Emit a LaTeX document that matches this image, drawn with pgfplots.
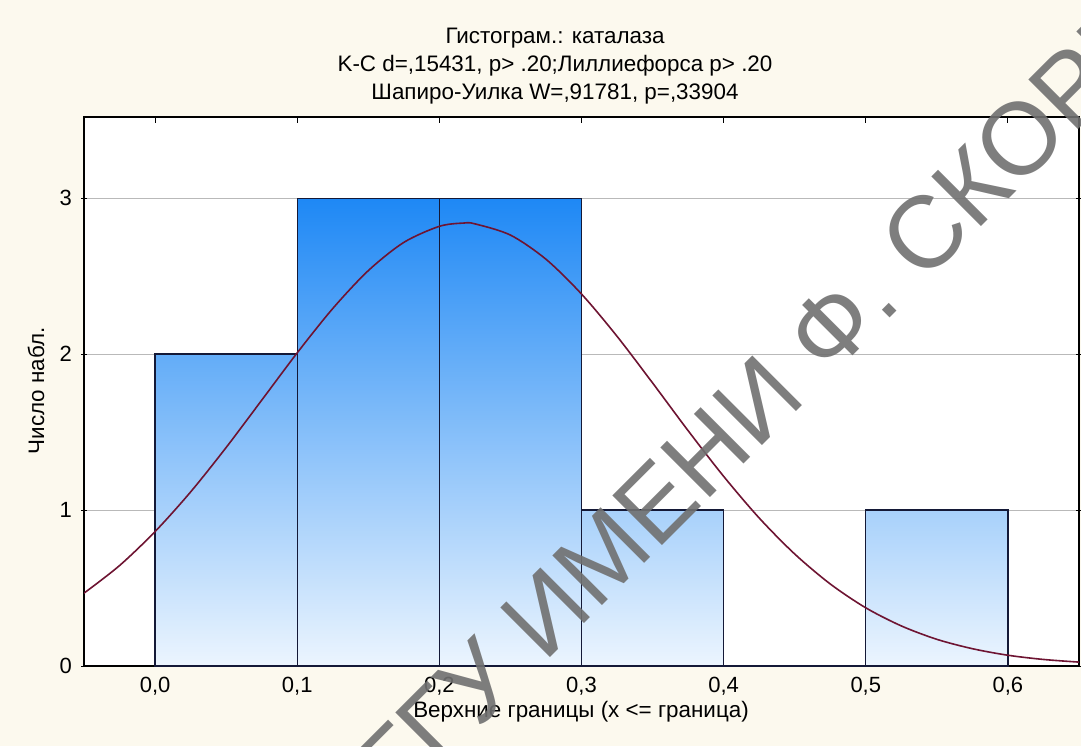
\documentclass[border=0pt]{standalone}
\usepackage{pgfplots}
\pgfplotsset{compat=1.18}
\usepackage{fontspec}
\setmainfont{Liberation Sans}
\definecolor{bg}{RGB}{252,249,238}
\definecolor{barTop}{RGB}{30,136,245}
\definecolor{barBot}{RGB}{236,245,254}
\definecolor{barEdge}{RGB}{20,25,55}
\definecolor{curveC}{RGB}{110,20,50}
\definecolor{wm}{RGB}{112,112,112}
\begin{document}
\begin{tikzpicture}
\fill[bg] (0,0) rectangle (540.5pt,373pt);
\useasboundingbox (0,0) rectangle (540.5pt,373pt);
\begin{axis}[
  at={(42pt,40pt)}, anchor=south west,
  scale only axis, width=497.5pt, height=274.5pt,
  xmin=-0.05, xmax=0.65, ymin=0, ymax=3.52,
  axis background/.style={fill=white},
  xtick={0,0.1,0.2,0.3,0.4,0.5,0.6},
  xticklabels={{0,0},{0,1},{0,2},{0,3},{0,4},{0,5},{0,6}},
  ytick={0,1,2,3},
  yticklabels={0,1,2,3},
  xtick pos=both, ytick pos=both,
  xtick align=inside, ytick align=center,
  major tick length=3pt,
  tick style={black, line width=0.5pt},
  ymajorgrids,
  grid style={gray!55, line width=0.5pt},
  axis line style={black, line width=0.6pt},
  tick label style={font=\fontsize{11}{13}\selectfont},
  /pgf/number format/assume math mode=true,
  xticklabel style={yshift=-2pt},
  yticklabel style={xshift=-1pt},
  clip=true,
]
\addplot[const plot mark left, draw=none, top color=barTop, bottom color=barBot]
  coordinates {(0,2) (0.1,3) (0.2,3) (0.3,1) (0.4,0) (0.5,1) (0.6,1)} \closedcycle;
\addplot[ybar interval, fill=none, draw=barEdge, line width=0.6pt]
  coordinates {(0,2) (0.1,3) (0.2,3) (0.3,1) (0.4,0) (0.5,1) (0.6,1)};
\addplot[smooth, curveC, line width=0.8pt] coordinates {
(-0.05,0.467) (-0.025,0.644) (0,0.862) (0.025,1.116) (0.05,1.401) (0.075,1.704)
(0.1,2.008) (0.125,2.292) (0.15,2.535) (0.175,2.716) (0.2,2.819) (0.217,2.840)
(0.225,2.835) (0.25,2.763) (0.275,2.608) (0.3,2.385) (0.325,2.114) (0.35,1.815)
(0.375,1.509) (0.4,1.216) (0.425,0.949) (0.45,0.718) (0.475,0.526) (0.5,0.373)
(0.525,0.257) (0.55,0.171) (0.575,0.111) (0.6,0.069) (0.625,0.042) (0.65,0.025)};
\end{axis}
\node[font=\fontsize{11.2}{13}\selectfont] at (277.5pt,354pt) {Гистограм.: каталаза};
\node[font=\fontsize{11.2}{13}\selectfont] at (277.5pt,340pt) {K-C d=,15431, p> .20;Лиллиефорса p> .20};
\node[font=\fontsize{11.2}{13}\selectfont] at (277.5pt,326pt) {Шапиро-Уилка W=,91781, p=,33904};
\node[font=\fontsize{11.2}{13}\selectfont, rotate=90] at (18pt,177.5pt) {Число набл.};
\node[font=\fontsize{11.2}{13}\selectfont] at (290.5pt,17pt) {Верхние границы (x <= граница)};
\node[overlay, rotate=45, anchor=base west, text=wm, opacity=0.9,
  font=\fontsize{51}{51}\selectfont, inner sep=0pt] at (200pt,-31pt) {ГГУ ИМЕНИ Ф. СКОРИНЫ};
\end{tikzpicture}
\end{document}
